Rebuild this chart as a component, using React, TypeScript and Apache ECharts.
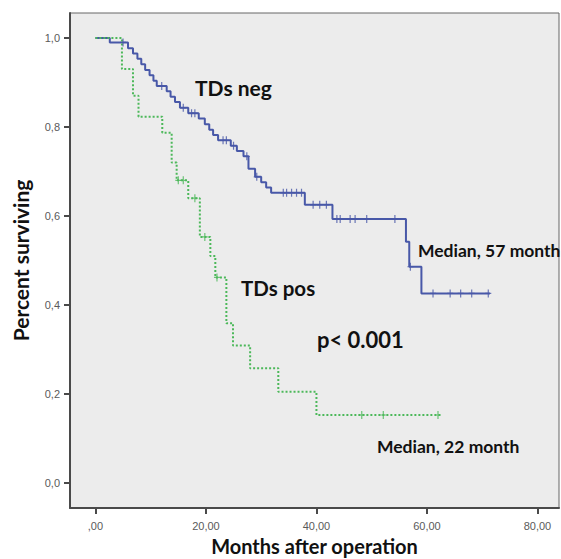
import React, { useEffect, useRef } from "react";
import * as echarts from "echarts";

// Kaplan-Meier steps: [month, survival after event]
const negSteps: [number, number][] = [
  [0, 1.0], [2.6, 0.99], [5.9, 0.977], [6.8, 0.965], [7.6, 0.953], [8.3, 0.941],
  [9.0, 0.928], [9.8, 0.916], [10.5, 0.904], [11.1, 0.892], [12.9, 0.88],
  [13.6, 0.868], [14.4, 0.856], [15.3, 0.843], [16.8, 0.831], [18.7, 0.819],
  [19.8, 0.806], [20.6, 0.794], [21.3, 0.782], [22.2, 0.77], [24.5, 0.758],
  [25.6, 0.746], [26.8, 0.734], [27.7, 0.706], [28.9, 0.688], [30.0, 0.676],
  [30.9, 0.664], [31.8, 0.652], [37.9, 0.625], [42.9, 0.593], [56.2, 0.542],
  [56.8, 0.486], [59.0, 0.426], [71.4, 0.426],
];
const negCensored: number[] = [
  5.0, 12.0, 15.9, 17.4, 18.0, 23.1, 23.7, 25.0, 27.4, 29.2, 34.0, 34.6, 35.5,
  36.4, 37.3, 39.4, 40.6, 41.8, 43.7, 44.3, 46.1, 47.0, 49.1, 54.2, 57.0,
  61.1, 64.2, 66.1, 68.1, 71.1,
];
const posSteps: [number, number][] = [
  [0, 1.0], [4.8, 0.93], [6.8, 0.87], [7.8, 0.823], [12.1, 0.787], [13.8, 0.72],
  [14.7, 0.68], [16.8, 0.64], [18.9, 0.553], [20.8, 0.51], [21.7, 0.462],
  [23.7, 0.359], [24.9, 0.309], [28.0, 0.258], [33.1, 0.205], [40.0, 0.153],
  [62.4, 0.153],
];
const posCensored: number[] = [15.0, 15.9, 18.0, 19.8, 22.0, 48.2, 52.1, 62.0];

const xTicks = [0, 20, 40, 60, 80];
const yTicks = [0, 0.2, 0.4, 0.6, 0.8, 1.0];

function survAt(steps: [number, number][], t: number): number {
  let s = steps[0][1];
  for (const [ti, si] of steps) {
    if (ti <= t) s = si;
  }
  return s;
}

const PLUS = "path://M2,0 L3,0 L3,3 L5,3 L5,4 L3,4 L3,7 L2,7 L2,4 L0,4 L0,3 L2,3 Z";

export default function App() {
  const ref = useRef<HTMLDivElement>(null);
  useEffect(() => {
    if (!ref.current) return;
    const chart = echarts.init(ref.current, null, { renderer: "svg" });
    const blue = "#4858a8";
    const green = "#4cb85a";
    const font = "Lato";
    chart.setOption({
      animation: false,
      backgroundColor: "#ffffff",
      grid: {
        left: 70, top: 13, right: 2, bottom: 51,
        containLabel: false, outerBoundsMode: "none",
        show: true, backgroundColor: "#ececec", borderColor: "#666", borderWidth: 1,
      },
      xAxis: {
        type: "value", min: -4.6, max: 83.9,
        name: "Months after operation", nameLocation: "middle", nameGap: 27,
        nameTextStyle: { fontFamily: font, fontWeight: "bold", fontSize: 20, color: "#111" },
        axisLine: { show: true, onZero: false, lineStyle: { color: "#4a4a4a", width: 2 } },
        axisTick: { show: true, length: 6, customValues: xTicks, lineStyle: { color: "#4a4a4a", width: 2 } },
        axisLabel: {
          customValues: xTicks, margin: 12, color: "#5a5a5a", fontSize: 11, fontFamily: "Arial",
          formatter: (v: number) => (v === 0 ? ",00" : v.toFixed(2).replace(".", ",")),
        },
        splitLine: { show: false },
      },
      yAxis: {
        type: "value", min: -0.056, max: 1.056,
        name: "Percent surviving", nameLocation: "middle", nameGap: 39,
        nameTextStyle: { fontFamily: font, fontWeight: "bold", fontSize: 21, color: "#111" },
        axisLine: { show: true, onZero: false, lineStyle: { color: "#4a4a4a", width: 2 } },
        axisTick: { show: true, length: 6, customValues: yTicks, lineStyle: { color: "#4a4a4a", width: 2 } },
        axisLabel: {
          customValues: yTicks, margin: 10, color: "#5a5a5a", fontSize: 11, fontFamily: "Arial",
          formatter: (v: number) => v.toFixed(1).replace(".", ","),
        },
        splitLine: { show: false },
      },
      series: [
        {
          type: "line", step: "end", data: negSteps, showSymbol: false, symbol: "none",
          lineStyle: { color: blue, width: 2 }, z: 3,
        },
        {
          type: "line", step: "end", data: posSteps, showSymbol: false, symbol: "none",
          lineStyle: { color: green, width: 2, type: [2, 2] }, z: 3,
        },
        {
          type: "scatter", data: negCensored.map((t) => [t, survAt(negSteps, t)]),
          symbol: PLUS, symbolSize: [6, 8], itemStyle: { color: blue }, z: 4,
        },
        {
          type: "scatter", data: posCensored.map((t) => [t, survAt(posSteps, t)]),
          symbol: PLUS, symbolSize: [6, 8], itemStyle: { color: green }, z: 4,
        },
      ],
      graphic: [
        { type: "text", left: 195, top: 77, style: { text: "TDs neg", font: `bold 21px ${font}`, fill: "#111" } },
        { type: "text", left: 241, top: 277, style: { text: "TDs pos", font: `bold 20.5px ${font}`, fill: "#111" } },
        { type: "text", left: 317, top: 328, style: { text: "p< 0.001", font: `bold 22px ${font}`, fill: "#111" } },
        { type: "text", left: 418, top: 241, style: { text: "Median, 57 month", font: `bold 17.5px ${font}`, fill: "#111" } },
        { type: "text", left: 377, top: 437, style: { text: "Median, 22 month", font: `bold 17.5px ${font}`, fill: "#111" } },
      ],
    });
    return () => chart.dispose();
  }, []);
  return (
    <div
      ref={ref}
      style={{ position: "absolute", left: 0, top: 0, width: 561, height: 559 }}
    />
  );
}
